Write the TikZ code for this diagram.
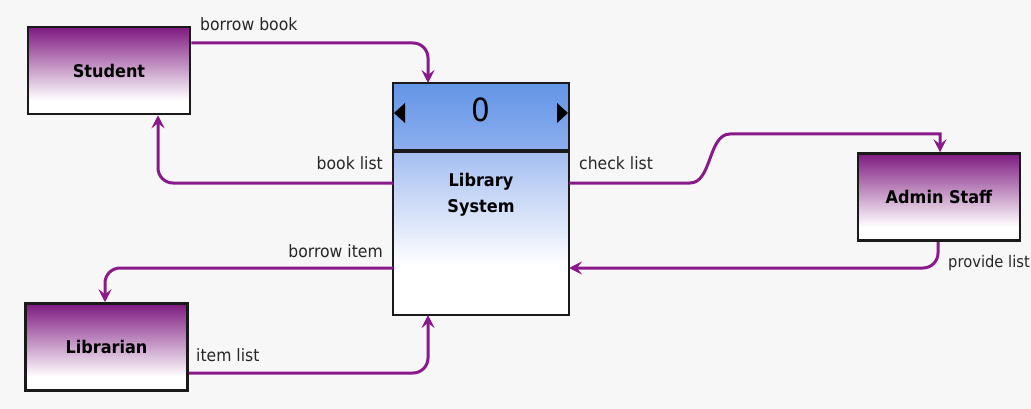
\documentclass[tikz,border=0pt]{standalone}
\usepackage{fontspec}
\setmainfont{DejaVu Sans}[FakeStretch=0.92]
\usetikzlibrary{arrows.meta}

\definecolor{pagebg}{HTML}{F7F7F7}
\definecolor{flow}{HTML}{8A1A8C}
\definecolor{entitytop}{HTML}{7E1A80}
\definecolor{headtop}{HTML}{6395E6}
\definecolor{headbot}{HTML}{8DAEEE}
\definecolor{bodytop}{HTML}{A4BEF1}
\definecolor{edge}{HTML}{1A1A1A}

% shadings: 25bp = bottom of the shape, 75bp = top of the shape
\pgfdeclareverticalshading{entityshade}{100bp}{%
  color(0bp)=(white); color(33bp)=(white); color(75bp)=(entitytop); color(100bp)=(entitytop)}
\pgfdeclareverticalshading{headshade}{100bp}{%
  color(0bp)=(headbot); color(25bp)=(headbot); color(75bp)=(headtop); color(100bp)=(headtop)}
\pgfdeclareverticalshading{bodyshade}{100bp}{%
  color(0bp)=(white); color(40bp)=(white); color(75bp)=(bodytop); color(100bp)=(bodytop)}

\tikzset{
  x=1pt, y=-1pt,
  entity/.style={draw=edge, line width=2.5pt, shading=entityshade, minimum width=162pt,
    minimum height=87pt, inner sep=0pt, font=\fontsize{17.5}{20}\selectfont\bfseries},
  flowline/.style={draw=flow, line width=3pt, rounded corners=15pt,
    -{Stealth[length=13pt,width=13pt,inset=5pt]}},
  flowlabel/.style={inner sep=0pt, font=\fontsize{17}{20}\selectfont, text=black!85},
  marker/.style={fill=black, draw=none}
}

\begin{document}
\begin{tikzpicture}
  \fill[pagebg] (0,0) rectangle (1031,409);
  \useasboundingbox (0,0) rectangle (1031,409);

  % external entities
  \node[entity] (student)   at (109,70.5) {Student};
  \node[entity] (admin)     at (939,197)  {Admin Staff};
  \node[entity] (librarian) at (106.5,347) {Librarian};

  % process 0: header band and body
  \path[shading=headshade] (393,83) rectangle (569,151);
  \path[shading=bodyshade] (393,151) rectangle (569,315);
  \node[draw=edge, line width=2.5pt, minimum width=176pt, minimum height=232pt,
        inner sep=0pt] (proc) at (481,199) {};
  \draw[edge, line width=3.5pt] (393,151) -- (569,151);
  \node[inner sep=0pt, font=\fontsize{32}{34}\selectfont] (pid) at (481,110) {0};
  \node[inner sep=0pt, align=center, font=\fontsize{17.5}{26}\selectfont\bfseries]
       (pname) at (481,195) {Library\\System};
  \fill[marker] (394,113) -- (405,103) -- (405,123) -- cycle;
  \fill[marker] (568,113) -- (557,103) -- (557,123) -- cycle;

  % anchor points on the process border
  \coordinate (pTop)   at (428,83);
  \coordinate (pBot)   at (428,315);
  \coordinate (pL1)    at (393,183);
  \coordinate (pL2)    at (393,268);
  \coordinate (pR1)    at (569,183);
  \coordinate (pR2)    at (569,268);

  % data flows
  \draw[flowline] (student.east |- 0,43) -| (pTop);
  \draw[flowline] (pL1) -| (student.south -| 158,0);
  \draw[flowline] (pL2) -| (librarian.north -| 105,0);
  \draw[flowline] (librarian.east |- 0,373) -| (pBot);
  \draw[flowline, rounded corners=0pt] (pR1) -- (690,183)
       .. controls (712,183) and (708,134) .. (730,134) -- (940,134)
       -- (admin.north -| 940,0);
  \draw[flowline] (admin.south -| 938,0) |- (pR2);

  % flow labels
  \node[flowlabel, anchor=west] (lb1) at (200,24)  {borrow book};
  \node[flowlabel, anchor=east] (lb2) at (383,163) {book list};
  \node[flowlabel, anchor=west] (lb3) at (579,163) {check list};
  \node[flowlabel, anchor=east, font=\fontsize{16}{20}\selectfont] (lb4) at (1030,263) {provide list};
  \node[flowlabel, anchor=east] (lb5) at (383,251) {borrow item};
  \node[flowlabel, anchor=west] (lb6) at (196,355) {item list};
\end{tikzpicture}
\end{document}
